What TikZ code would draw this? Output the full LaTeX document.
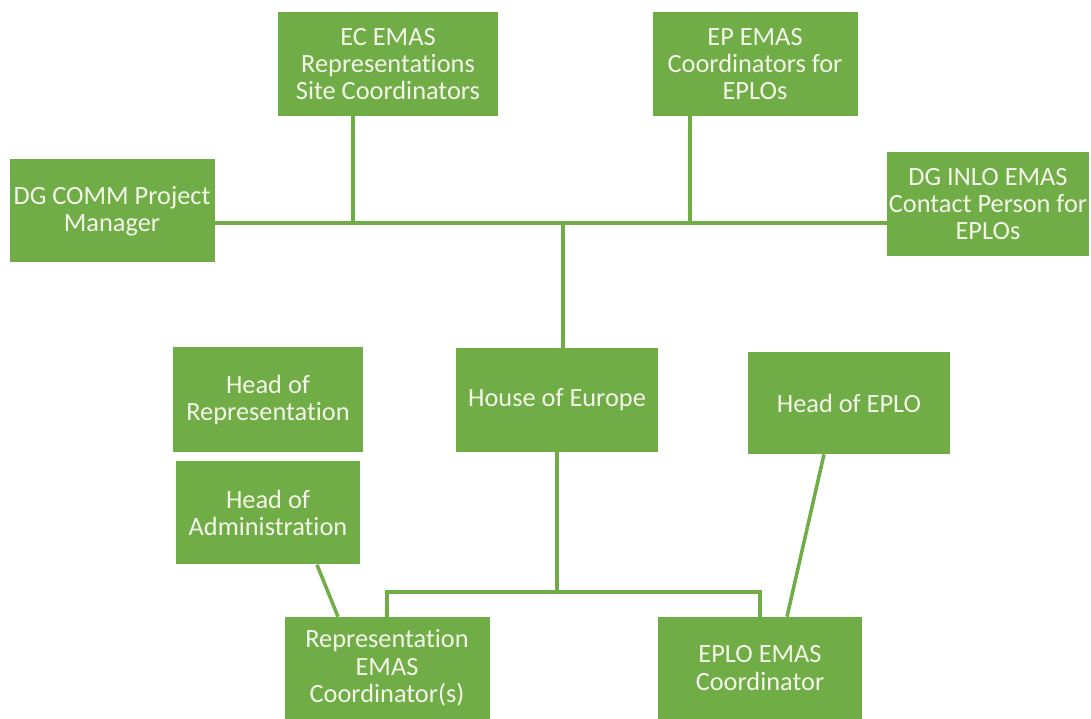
\documentclass[tikz,border=0pt]{standalone}
\usepackage{fontspec}
\setmainfont{Carlito}[Ligatures=NoCommon]
\definecolor{boxgreen}{HTML}{70AD47}
\definecolor{boxtext}{HTML}{F4F6EA}
\begin{document}
\begin{tikzpicture}[
  box/.style={fill=boxgreen, text=boxtext, align=center, inner sep=1pt,
    font=\fontsize{15}{15.6}\selectfont},
  link/.style={draw=boxgreen, line width=2pt}]
\useasboundingbox (0,0) rectangle (21.82,14.38);

\node[box, minimum width=4.4cm, minimum height=2.08cm] (ec) at (7.76,13.10) {EC EMAS\\Representations\\Site Coordinators};
\node[box, minimum width=4.1cm, minimum height=2.08cm] (ep) at (15.10,13.10) {EP EMAS\\Coordinators for\\EPLOs};
\node[box, minimum width=4.1cm, minimum height=2.06cm] (comm) at (2.24,10.16) {DG COMM Project\\Manager};
\node[box, minimum width=3.98cm, minimum height=2.08cm] (inlo) at (19.76,10.30) {DG INLO EMAS\\Contact Person for\\EPLOs};
\node[box, minimum width=4.04cm, minimum height=2.08cm] (hoe) at (11.14,6.38) {House of Europe};
\node[box, minimum width=3.8cm, minimum height=2.1cm] (hor) at (5.36,6.38) {Head of\\Representation};
\node[box, minimum width=3.68cm, minimum height=2.06cm] (hoa) at (5.36,4.12) {Head of\\Administration};
\node[box, minimum width=4.04cm, minimum height=2.04cm] (hoeplo) at (16.98,6.32) {Head of EPLO};
\node[box, minimum width=4.1cm, minimum height=2.04cm] (repc) at (7.74,1.02) {Representation\\EMAS\\Coordinator(s)};
\node[box, minimum width=4.08cm, minimum height=2.04cm] (eploc) at (15.20,1.02) {EPLO EMAS\\Coordinator};

\coordinate (bus) at (11.26,9.92);
\coordinate (split) at (11.14,2.54);

\path[link] (comm.east |- bus) -- (inlo.west |- bus);
\path[link] ([xshift=-0.7cm]ec.south) -- ([xshift=-0.7cm]ec.south |- bus);
\path[link] ([xshift=-1.3cm]ep.south) -- ([xshift=-1.3cm]ep.south |- bus);
\path[link] ([xshift=0.12cm]hoe.north) -- ([xshift=0.12cm]hoe.north |- bus);
\path[link] (hoe.south) -- (split);
\path[link] (repc.north) -- (repc.north |- split) -- (eploc.north |- split) -- (eploc.north);
\path[link] ([xshift=0.98cm]hoa.south) -- ([xshift=-0.98cm]repc.north);
\path[link] ([xshift=-0.5cm]hoeplo.south) -- ([xshift=0.54cm]eploc.north);
\end{tikzpicture}
\end{document}
